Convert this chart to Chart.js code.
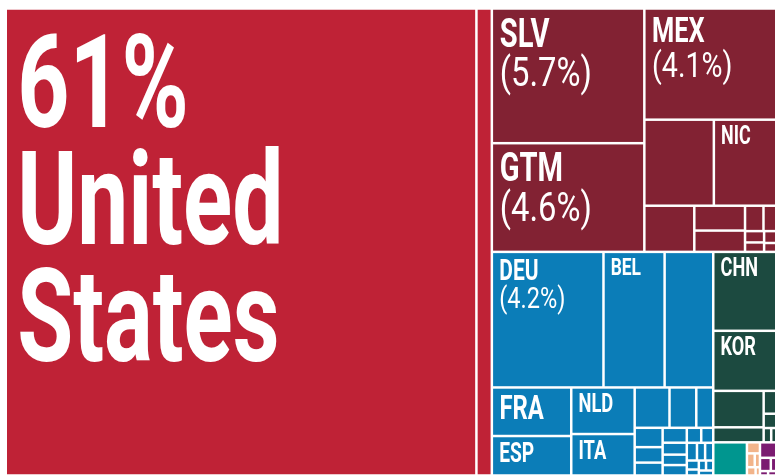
<!DOCTYPE html>
<html>
<head>
<meta charset="utf-8">
<script src="https://cdn.jsdelivr.net/npm/chart.js@4.4.1/dist/chart.umd.min.js"></script>
<style>
  html, body { margin: 0; padding: 0; background: #ffffff; overflow: hidden; }
  #wrap { width: 778px; height: 476px; }
</style>
</head>
<body>
<div id="wrap"><canvas id="treemap"></canvas></div>
<script>
// Export destinations, share of total exports (%)
const regionColors = ['#bf2236', '#822233', '#0b7db8', '#1c4a40', '#00968f', '#f2b48a', '#7b1b71'];

const northAmericaCodes = ['USA', 'CAN'];
const northAmericaValues = [61.0, 2.0];

const americasCodes = ['SLV', 'GTM', 'MEX', 'CRI', 'NIC', 'PAN', 'DOM', 'COL', 'JAM', 'BLZ', 'PER', 'CUB', 'ECU', 'HTI'];
const americasValues = [5.7, 4.6, 4.07, 1.66, 1.49, 0.64, 0.35, 0.30, 0.13, 0.09, 0.06, 0.05, 0.04, 0.03];

const europeCodes = ['DEU', 'BEL', 'GBR', 'FRA', 'ESP', 'NLD', 'ITA', 'SWE', 'DNK', 'CHE', 'POL', 'PRT', 'IRL',
  'AUT', 'FIN', 'NOR', 'GRC', 'CZE', 'RUS', 'ROU', 'HUN', 'SVK', 'TUR', 'UKR', 'LTU', 'BGR', 'SVN'];
const europeValues = [4.2, 2.3, 1.83, 1.07, 0.87, 0.82, 0.73, 0.39, 0.30, 0.19, 0.15, 0.12, 0.10,
  0.10, 0.08, 0.07, 0.07, 0.06, 0.05, 0.05, 0.04, 0.04, 0.03, 0.02, 0.02, 0.02, 0.02];

const asiaCodes = ['CHN', 'KOR', 'JPN', 'TWN', 'IND', 'HKG', 'SGP', 'MYS'];
const asiaValues = [1.38, 1.05, 0.51, 0.21, 0.08, 0.05, 0.03, 0.02];

const oceaniaCodes = ['AUS'];
const oceaniaValues = [0.31];

const southAmericaCodes = ['BRA', 'CHL', 'ARG', 'URY', 'BOL'];
const southAmericaValues = [0.04, 0.03, 0.02, 0.02, 0.01];

const africaCodes = ['ZAF', 'MAR', 'EGY', 'NGA', 'KEN'];
const africaValues = [0.07, 0.04, 0.02, 0.01, 0.01];

// which cells get a text label, and the long name for the biggest one
const labelledCodes = ['USA', 'SLV', 'GTM', 'MEX', 'NIC', 'DEU', 'BEL', 'FRA', 'ESP', 'NLD', 'ITA', 'CHN', 'KOR'];
const longNames = { USA: 'United States' };
const pctThreshold = 4;

const fontFamily = 'Roboto, "Liberation Sans", sans-serif';
const gap = 2.5;

const groups = [
  [northAmericaCodes, northAmericaValues],
  [americasCodes, americasValues],
  [europeCodes, europeValues],
  [asiaCodes, asiaValues],
  [oceaniaCodes, oceaniaValues],
  [southAmericaCodes, southAmericaValues],
  [africaCodes, africaValues]
].map(([codes, values], i) => ({
  color: regionColors[i],
  value: values.reduce((a, b) => a + b, 0),
  children: codes.map((code, j) => ({ code: code, value: values[j], color: regionColors[i] }))
}));

// port of d3.treemapSquarify (golden ratio), nodes kept in given order
const phi = (1 + Math.sqrt(5)) / 2;

function squarify(nodes, x0, y0, x1, y1, out) {
  let value = nodes.reduce((s, nd) => s + nd.value, 0);
  let i0 = 0, i1 = 0;
  const n = nodes.length;
  while (i0 < n) {
    const dx = x1 - x0, dy = y1 - y0;
    let sumValue = nodes[i1++].value;
    let minValue = sumValue, maxValue = sumValue;
    const alpha = Math.max(dy / dx, dx / dy) / (value * phi);
    let beta = sumValue * sumValue * alpha;
    let minRatio = Math.max(maxValue / beta, beta / minValue);
    for (; i1 < n; ++i1) {
      const v = nodes[i1].value;
      sumValue += v;
      if (v < minValue) minValue = v;
      if (v > maxValue) maxValue = v;
      beta = sumValue * sumValue * alpha;
      const newRatio = Math.max(maxValue / beta, beta / minValue);
      if (newRatio > minRatio) { sumValue -= v; break; }
      minRatio = newRatio;
    }
    const row = nodes.slice(i0, i1);
    if (dx < dy) {
      const yb = i1 < n ? y0 + dy * sumValue / value : y1;
      let x = x0;
      row.forEach(nd => {
        const w = (x1 - x0) * nd.value / sumValue;
        place(nd, x, y0, x + w, yb, out);
        x += w;
      });
      y0 = yb;
    } else {
      const xb = i1 < n ? x0 + dx * sumValue / value : x1;
      let y = y0;
      row.forEach(nd => {
        const h = (y1 - y0) * nd.value / sumValue;
        place(nd, x0, y, xb, y + h, out);
        y += h;
      });
      x0 = xb;
    }
    value -= sumValue;
    i0 = i1;
  }
}

function place(nd, x0, y0, x1, y1, out) {
  if (nd.children) squarify(nd.children, x0, y0, x1, y1, out);
  else out.push({ node: nd, x0: x0, y0: y0, x1: x1, y1: y1 });
}

function condensedText(ctx, text, x, y, size, weight, sx) {
  ctx.save();
  ctx.font = weight + ' ' + size + 'px ' + fontFamily;
  ctx.translate(x, y);
  ctx.scale(sx, 1);
  ctx.fillText(text, 0, 0);
  ctx.restore();
}

const treemapPlugin = {
  id: 'treemap',
  afterDraw(chart) {
    const ctx = chart.ctx;
    const xs = chart.scales.x, ys = chart.scales.y;
    const left = xs.getPixelForValue(0), right = xs.getPixelForValue(100);
    const top = ys.getPixelForValue(100), bottom = ys.getPixelForValue(0);
    const cells = [];
    squarify(groups, left, top, right, bottom, cells);

    ctx.save();
    cells.forEach((c, idx) => {
      const x0 = c.x0 + gap / 2, y0 = c.y0 + gap / 2;
      const w = c.x1 - c.x0 - gap, h = c.y1 - c.y0 - gap;
      if (w <= 0 || h <= 0) return;
      ctx.fillStyle = c.node.color;
      ctx.fillRect(x0, y0, w, h);

      const code = c.node.code;
      if (labelledCodes.indexOf(code) < 0) return;
      ctx.fillStyle = '#ffffff';
      ctx.textAlign = 'left';
      ctx.textBaseline = 'alphabetic';
      if (idx === 0) {
        // biggest cell: share, then the full name word by word
        const s = 130;
        const tx = x0 + 5 + 0.04 * s;
        const lines = [Math.round(c.node.value) + '%'].concat((longNames[code] || code).split(' '));
        lines.forEach((t, k) => condensedText(ctx, t, tx, y0 + 0.9 * s + k * 0.9 * s, s, 700, 0.7));
        return;
      }
      const hasPct = c.node.value >= pctThreshold;
      const s = Math.min(41, (hasPct ? 0.31 : 0.55) * (w - 14), 0.73 * h);
      const tx = x0 + 5 + 0.04 * s;
      const base = y0 + 0.9 * s;
      condensedText(ctx, code, tx, base, s, 700, 0.71);
      if (hasPct) condensedText(ctx, '(' + c.node.value.toFixed(1) + '%)', tx, base + 0.97 * s, s, 400, 0.8);
    });
    ctx.restore();
  }
};

new Chart(document.getElementById('treemap'), {
  type: 'scatter',
  data: { datasets: [] },
  options: {
    responsive: true,
    maintainAspectRatio: false,
    animation: false,
    events: [],
    layout: { padding: { left: 5.75, top: 8.5, right: 1.75, bottom: 0.5 } },
    scales: {
      x: { type: 'linear', min: 0, max: 100, display: false },
      y: { type: 'linear', min: 0, max: 100, display: false }
    },
    plugins: {
      legend: { display: false },
      tooltip: { enabled: false }
    }
  },
  plugins: [treemapPlugin]
});
</script>
</body>
</html>
